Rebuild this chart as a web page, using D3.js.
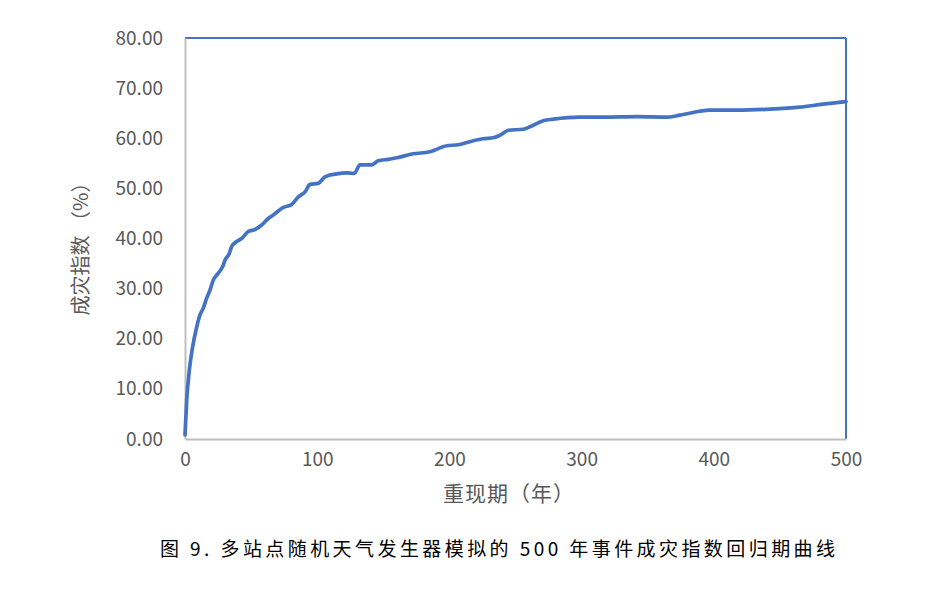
<!DOCTYPE html>
<html><head><meta charset="utf-8">
<script src="https://cdn.jsdelivr.net/npm/d3@7"></script>
<style>body{margin:0;background:#fff}</style>
</head><body>
<svg id="c" width="937" height="602"></svg>
<script>
const returnPeriod = [0,1.3,3.3,5.8,8.9,11.3,13.8,16.4,18.9,21.4,25.2,28.5,30.3,33.5,35.3,39.1,42.9,47.9,53.0,58.0,63.0,66.8,74.4,80.7,85.7,90.8,94.6,100.8,105.9,114.8,122.3,128.1,132.4,141.2,146.2,153.8,160.1,172.7,185.3,198.0,206.7,218.1,225.6,233.2,238.3,244.6,255.9,261.0,271.0,278.6,298.8,316.4,341.7,364.4,374.4,397.1,417.3,442.5,465.0,482.6,500];
const disasterIndex = [0.8,7.8,13.8,18.4,22.4,24.7,26.1,28.1,29.7,31.7,33.1,34.4,35.7,37.0,38.4,39.4,40.0,41.4,41.8,42.7,44.0,44.7,46.2,46.8,48.3,49.3,50.8,51.0,52.3,52.9,53.1,53.0,54.7,54.7,55.5,55.8,56.1,56.9,57.3,58.5,58.7,59.5,59.9,60.1,60.6,61.6,61.8,62.3,63.5,63.8,64.2,64.2,64.3,64.2,64.6,65.6,65.6,65.8,66.2,66.8,67.3];
const xTicks = [0,100,200,300,400,500];
const yTicks = [0,10,20,30,40,50,60,70,80];
const xTitle = "重现期（年）";
const yTitle = "成灾指数 （%）";
const caption = "图 9.  多站点随机天气发生器模拟的 500 年事件成灾指数回归期曲线";

const svg = d3.select("#c");
const L = 185, R = 846, T = 38, B = 439;
const x = d3.scaleLinear().domain([0,500]).range([L,R]);
const y = d3.scaleLinear().domain([0,80]).range([B,T]);
const font = "'Microsoft YaHei','Noto Sans CJK SC','DejaVu Sans',sans-serif";

// frame: top & right blue, left & bottom gray axes
svg.append("line").attr("x1",L).attr("x2",R).attr("y1",T).attr("y2",T).attr("stroke","#4472C4").attr("stroke-width",2);
svg.append("line").attr("x1",R).attr("x2",R).attr("y1",T).attr("y2",B).attr("stroke","#4472C4").attr("stroke-width",2);

const xAxis = svg.append("g").attr("transform",`translate(0,${B})`)
  .call(d3.axisBottom(x).tickValues(xTicks).tickSize(0).tickPadding(14).tickFormat(d3.format("d")));
const yAxis = svg.append("g").attr("transform",`translate(${L},0)`)
  .call(d3.axisLeft(y).tickValues(yTicks).tickSize(0).tickPadding(22).tickFormat(d3.format(".2f")));
[xAxis,yAxis].forEach(g=>{
  g.select(".domain").attr("stroke","#BFBFBF").attr("stroke-width",2);
  g.selectAll("text").attr("fill","#595959").style("font-size","19px").style("font-family",font);
});

const data = returnPeriod.map((d,i)=>[d,disasterIndex[i]]);
svg.append("path").datum(data)
  .attr("fill","none").attr("stroke","#4472C4").attr("stroke-width",3.7)
  .attr("stroke-linejoin","round").attr("stroke-linecap","round")
  .attr("d", d3.line().x(d=>x(d[0])).y(d=>y(d[1])).curve(d3.curveMonotoneX));

svg.append("text").attr("x",509).attr("y",501).attr("text-anchor","middle")
  .attr("fill","#595959").style("font-size","21px").style("letter-spacing","1px").style("font-family",font).text(xTitle);
svg.append("text").attr("transform",`translate(88,244) rotate(-90)`).attr("text-anchor","middle")
  .attr("fill","#595959").style("font-size","20px").style("font-family",font).text(yTitle);

svg.append("text").attr("x",160).attr("y",556).attr("textLength",675).attr("lengthAdjust","spacing")
  .attr("fill","#000").style("font-size","19px").style("font-family","'Noto Sans CJK SC',serif").style("font-weight","400").text(caption);
</script>
</body></html>
